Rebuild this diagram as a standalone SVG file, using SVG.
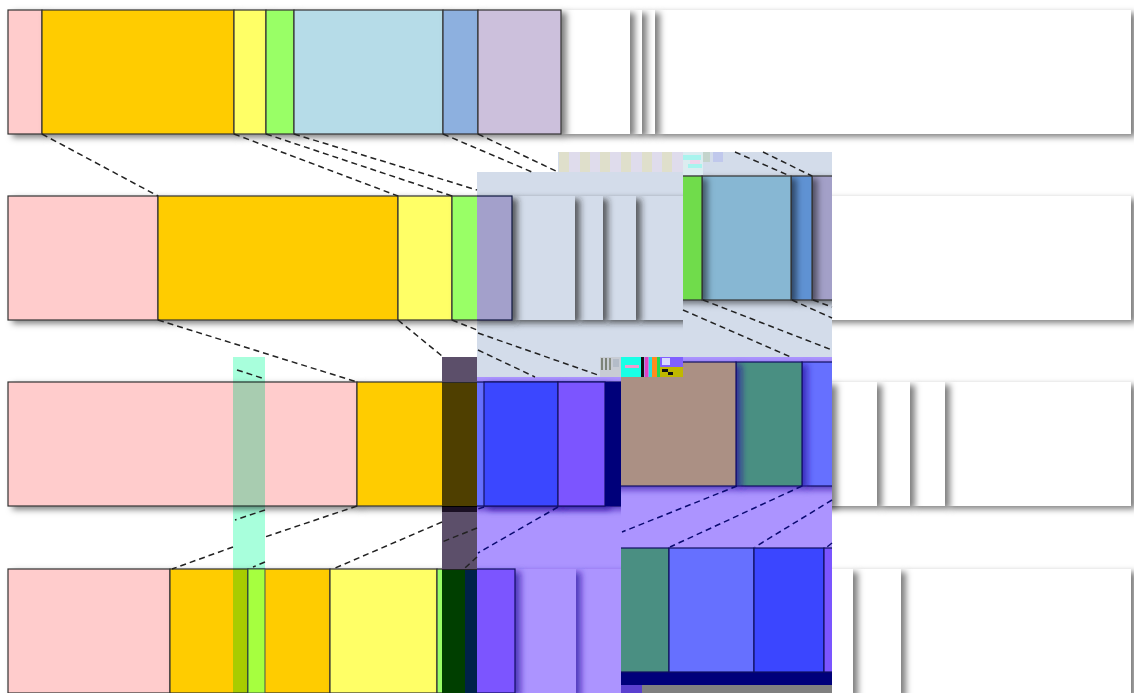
<svg xmlns="http://www.w3.org/2000/svg" width="1134" height="693" viewBox="0 0 1134 693">
<style>
.s{stroke:#333;stroke-width:1.2;filter:url(#ds)}
.w{fill:#fff;filter:url(#ds)}
.v{stroke:#101060;stroke-width:1.2;filter:url(#dv)}
.a{fill:#d3dcea;filter:url(#da)}
.p{fill:#ac94ff;filter:url(#dv)}
#links line{stroke:#222;stroke-width:1.5;stroke-dasharray:6 4;fill:none}
#links .b line{stroke:#0a0a70}
</style>
<defs>
<filter id="ds" x="-100%" y="-10%" width="300%" height="125%"><feDropShadow dx="5" dy="3" stdDeviation="3" flood-color="#000" flood-opacity=".5"/></filter>
<filter id="da" x="-100%" y="-10%" width="300%" height="125%"><feDropShadow dx="5" dy="3" stdDeviation="3" flood-color="#222" flood-opacity=".7"/></filter>
<filter id="dv" x="-100%" y="-10%" width="300%" height="125%"><feDropShadow dx="5" dy="3" stdDeviation="3" flood-color="#2a10a0" flood-opacity=".7"/></filter>
<clipPath id="c"><rect x="477" y="152" width="355" height="541"/></clipPath>
<clipPath id="ca"><rect x="477" y="172" width="206" height="186"/></clipPath>
<clipPath id="cr"><rect x="683" y="152" width="149" height="206"/></clipPath>
<clipPath id="cb"><rect x="621" y="357" width="211" height="336"/></clipPath>
</defs>
<rect width="1134" height="693" fill="#fff"/>

<g id="row1-blank"><rect class="w" x="655" y="10" width="476" height="124"/><rect class="w" x="642" y="10" width="13" height="124"/><rect class="w" x="630" y="10" width="12" height="124"/><rect class="w" x="561" y="10" width="69" height="124"/></g>
<g id="row1">
<g id="r1a"><rect class="s" x="8" y="10" width="34" height="124" fill="#ffcccc"/></g>
<g id="r1b"><rect class="s" x="42" y="10" width="192" height="124" fill="#ffcc00"/></g>
<g id="r1c"><rect class="s" x="234" y="10" width="32" height="124" fill="#ffff66"/></g>
<g id="r1d"><rect class="s" x="266" y="10" width="28" height="124" fill="#99ff66"/></g>
<g id="r1e"><rect class="s" x="294" y="10" width="149" height="124" fill="#b6dce8"/></g>
<g id="r1f"><rect class="s" x="443" y="10" width="35" height="124" fill="#8db0df"/></g>
<g id="r1g"><rect class="s" x="478" y="10" width="83" height="124" fill="#ccc0dc"/></g>
</g>

<g id="row2-blank"><rect class="w" x="700" y="196" width="431" height="124"/></g>
<g id="row2">
<g id="r2a"><rect class="s" x="8" y="196" width="150" height="124" fill="#ffcccc"/></g>
<g id="r2b"><rect class="s" x="158" y="196" width="240" height="124" fill="#ffcc00"/></g>
<g id="r2c"><rect class="s" x="398" y="196" width="54" height="124" fill="#ffff66"/></g>
<g id="r2d"><rect class="s" x="452" y="196" width="60" height="124" fill="#99ff66"/></g>
</g>

<g id="row3-blank"><rect class="w" x="945" y="382" width="186" height="124"/><rect class="w" x="910" y="382" width="35" height="124"/><rect class="w" x="877" y="382" width="33" height="124"/><rect class="w" x="820" y="382" width="57" height="124"/><rect class="w" x="800" y="382" width="32" height="124"/></g>
<g id="row3">
<g id="r3a"><rect class="s" x="8" y="382" width="349" height="124" fill="#ffcccc"/></g>
<g id="r3b"><rect class="s" x="357" y="382" width="120" height="124" fill="#ffcc00"/></g>
</g>

<g id="row4-blank"><rect class="w" x="901" y="569" width="230" height="126"/><rect class="w" x="853" y="569" width="48" height="126"/><rect class="w" x="800" y="569" width="53" height="126"/></g>
<g id="row4">
<g id="r4a"><rect class="s" x="8" y="569" width="162" height="124" fill="#ffcccc"/></g>
<g id="r4b"><rect class="s" x="170" y="569" width="78" height="124" fill="#ffcc00"/></g>
<g id="r4c"><rect class="s" x="248" y="569" width="82" height="124" fill="#ffcc00"/></g>
<g id="r4d"><rect class="s" x="330" y="569" width="107" height="124" fill="#ffff66"/></g>
<g id="r4e"><rect class="s" x="437" y="569" width="28" height="124" fill="#99ff66"/></g>
<rect x="248" y="569" width="17" height="124" fill="#fcff49" stroke="#555"/>
</g>

<g id="band-mint"><rect x="233" y="357" width="32" height="336" fill="#a8ffdc" style="mix-blend-mode:multiply"/></g>

<g id="band-dark">
<rect x="442" y="357" width="35" height="336" fill="#5c4f6a"/>
<rect x="442" y="382" width="35" height="124" fill="#4f3f00"/>
<rect x="442" y="506" width="35" height="6" fill="#1b1024"/>
<rect x="442" y="569" width="23" height="124" fill="#003f00"/>
<rect x="465" y="569" width="12" height="124" fill="#00224a"/>
<rect x="442" y="382" width="35" height="1" fill="#2a2a2a"/>
<rect x="442" y="506" width="35" height="1" fill="#000"/>
<rect x="442" y="569" width="35" height="1" fill="#222"/>
</g>

<g id="panel-grey" clip-path="url(#c)">
<rect x="477" y="172" width="355" height="205" fill="#d3dcea"/>
<rect x="558" y="152" width="274" height="20" fill="#d3dcea"/>
<g clip-path="url(#ca)">
<rect class="a" x="636" y="196" width="60" height="124"/>
<rect class="a" x="603" y="196" width="33" height="124"/>
<rect class="a" x="575" y="196" width="28" height="124"/>
<rect class="a" x="512" y="196" width="63" height="124"/>
<rect x="470" y="196" width="42" height="124" fill="#a3a0cb" stroke="#101840" stroke-width="1.2" style="filter:url(#da)"/>
</g>
<rect x="683" y="172" width="149" height="186" fill="#d3dcea"/>
<g clip-path="url(#cr)">
<rect class="s" x="812" y="176" width="30" height="124" fill="#a3a0c8" stroke="#101840"/>
<rect class="s" x="791" y="176" width="21" height="124" fill="#5f92d3"/>
<rect class="s" x="702" y="176" width="89" height="124" fill="#87b7d3"/>
<rect class="s" x="670" y="176" width="32" height="124" fill="#6fdc4c"/>
</g>
<g id="glitch-top">
<rect x="559" y="152" width="124" height="20" fill="#dfdcec"/>
<rect x="559" y="152" width="10" height="20" fill="#dfdfcb"/>
<rect x="580" y="152" width="10" height="20" fill="#dfdfcb"/>
<rect x="600" y="152" width="10" height="20" fill="#dfdfcb"/>
<rect x="621" y="152" width="10" height="20" fill="#dfdfcb"/>
<rect x="642" y="152" width="10" height="20" fill="#dfdfcb"/>
<rect x="662" y="152" width="10" height="20" fill="#dfdfcb"/>
<rect x="683" y="152" width="20" height="23" fill="#dcecf0"/>
<rect x="683" y="155" width="18" height="5" fill="#a8f4ee"/>
<rect x="688" y="164" width="14" height="4" fill="#a8f4ee"/>
<rect x="690" y="160" width="10" height="4" fill="#f0d4ea"/>
<rect x="703" y="152" width="7" height="10" fill="#c4d4cc"/>
<rect x="713" y="152" width="10" height="10" fill="#c0c8ec"/>
</g>
</g>

<g id="panel-violet" clip-path="url(#c)">
<rect x="477" y="377" width="144" height="316" fill="#ac94ff"/>
<rect class="v" x="470" y="382" width="151" height="124" fill="#6670ff"/>
<rect class="v" x="484" y="382" width="74" height="124" fill="#3b46ff"/>
<rect class="v" x="558" y="382" width="47" height="124" fill="#7b55ff"/>
<rect x="605" y="382" width="16" height="124" fill="#00007a"/>
<rect class="p" x="576" y="569" width="45" height="126"/>
<rect class="p" x="515" y="569" width="61" height="126"/>
<rect x="470" y="569" width="45" height="124" fill="#7b55ff" stroke="#101060" stroke-width="1.2" style="filter:url(#dv)"/>
<g clip-path="url(#cb)">
<rect x="621" y="357" width="211" height="336" fill="#ac94ff"/>
<rect class="v" x="802" y="362" width="40" height="124" fill="#6670ff"/>
<rect class="v" x="736" y="362" width="66" height="124" fill="#4a8f82"/>
<rect class="v" x="610" y="362" width="126" height="124" fill="#ab9084"/>
<rect x="621" y="672" width="211" height="13" fill="#00007a"/>
<rect x="621" y="685" width="21" height="8" fill="#5a3fd0"/>
<rect x="642" y="685" width="190" height="8" fill="#808080"/>
<rect x="612" y="548" width="57" height="124" fill="#4a8f82" stroke="#101060" stroke-width="1.2"/>
<rect x="669" y="548" width="85" height="124" fill="#6670ff" stroke="#101060" stroke-width="1.2"/>
<rect x="754" y="548" width="70" height="124" fill="#3b46ff" stroke="#101060" stroke-width="1.2"/>
<rect x="824" y="548" width="18" height="124" fill="#7b55ff" stroke="#101060" stroke-width="1.2"/>
</g>
</g>

<g id="glitch-mid">
<rect x="600" y="357" width="21" height="20" fill="#c8ccd4"/>
<rect x="601" y="358" width="2" height="12" fill="#7c8278"/>
<rect x="605" y="358" width="2" height="12" fill="#7c8278"/>
<rect x="609" y="358" width="2" height="12" fill="#8a9084"/>
<rect x="613" y="359" width="6" height="8" fill="#b4bcc8"/>
<rect x="621" y="357" width="20" height="20" fill="#19ffe6"/>
<rect x="625" y="365" width="14" height="3" fill="#f29ccf"/>
<rect x="641" y="357" width="19" height="20" fill="#a890e8"/>
<rect x="641" y="357" width="3" height="20" fill="#111"/>
<rect x="645" y="357" width="3" height="20" fill="#e040c0"/>
<rect x="649" y="357" width="3" height="20" fill="#24e0e0"/>
<rect x="652" y="357" width="5" height="20" fill="#ff8a1e"/>
<rect x="657" y="357" width="3" height="20" fill="#20d850"/>
<rect x="660" y="357" width="23" height="10" fill="#8060ff"/>
<rect x="660" y="367" width="23" height="10" fill="#c0b800"/>
<rect x="662" y="358" width="8" height="7" fill="#d8d8ff"/>
<rect x="662" y="369" width="6" height="3" fill="#111"/>
<rect x="668" y="372" width="5" height="3" fill="#111"/>
</g>

<g id="links">
<line x1="42" y1="134" x2="158" y2="196"/>
<line x1="234" y1="134" x2="398" y2="196"/>
<line x1="266" y1="134" x2="452" y2="196"/>
<line x1="294" y1="134" x2="477" y2="190"/>
<line x1="443" y1="134" x2="532" y2="172"/>
<line x1="478" y1="134" x2="558" y2="172"/>
<line x1="735" y1="152" x2="790" y2="176"/>
<line x1="763" y1="152" x2="812" y2="176"/>
<line x1="158" y1="320" x2="357" y2="382"/>
<line x1="237" y1="370" x2="265" y2="379"/>
<line x1="398" y1="320" x2="442" y2="356"/>
<line x1="452" y1="320" x2="477" y2="330"/>
<line x1="478" y1="333" x2="598" y2="375"/>
<line x1="478" y1="350" x2="535" y2="377"/>
<line x1="703" y1="300" x2="832" y2="350"/>
<line x1="683" y1="310" x2="793" y2="358"/>
<line x1="792" y1="300" x2="832" y2="318"/>
<line x1="813" y1="300" x2="832" y2="307"/>
<line x1="357" y1="506" x2="265" y2="537"/>
<line x1="233" y1="547" x2="172" y2="569"/>
<line x1="265" y1="510" x2="235" y2="520"/>
<line x1="265" y1="562" x2="253" y2="567"/>
<line x1="442" y1="522" x2="333" y2="569"/>
<line x1="477" y1="528" x2="442" y2="542"/>
<line x1="477" y1="557" x2="465" y2="568"/>
<g class="b">
<line x1="558" y1="507" x2="478" y2="553"/>
<line x1="484" y1="507" x2="478" y2="509"/>
<line x1="737" y1="486" x2="622" y2="532"/>
<line x1="802" y1="486" x2="670" y2="547"/>
<line x1="832" y1="500" x2="755" y2="547"/>
<line x1="832" y1="543" x2="827" y2="547"/>
</g>
</g>
</svg>
